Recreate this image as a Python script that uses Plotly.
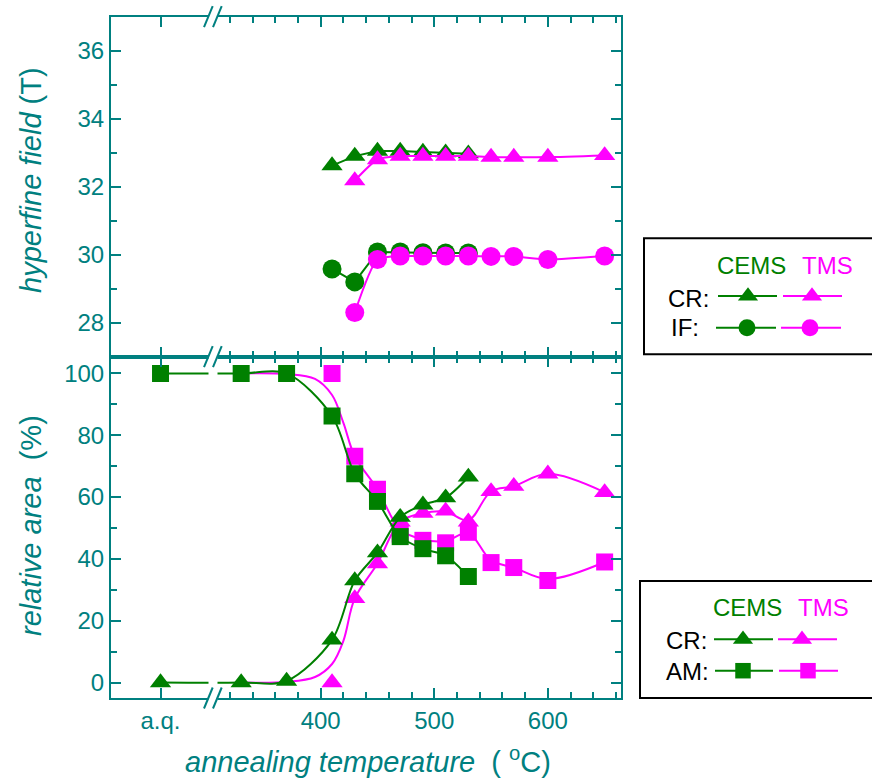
import plotly.graph_objects as go

W, H = 872, 778
AQ = 259          # axis position used for the as-quenched ("a.q.") sample
BREAK_X = 305.2   # axis-break position (data units)

# ---------------- data ----------------
# top panel: hyperfine field (T)
cems_top_T = [410, 430, 450, 470, 490, 510, 530]
cems_cr_hf = [32.62, 32.9, 33.05, 33.05, 33.02, 33.0, 32.97]
cems_if_hf = [29.58, 29.2, 30.08, 30.08, 30.06, 30.05, 30.05]

tms_top_T = [430, 450, 470, 490, 510, 530, 550, 570, 600, 650]
tms_cr_hf = [32.18, 32.8, 32.9, 32.9, 32.9, 32.9, 32.87, 32.87, 32.87, 32.92]
tms_if_hf = [28.3, 29.86, 29.96, 29.96, 29.96, 29.96, 29.95, 29.95, 29.86, 29.96]

# bottom panel: relative area (%)
cems_T = [AQ, 330, 370, 410, 430, 450, 470, 490, 510, 530]
cems_am = [100, 100, 100, 86.2, 67.5, 58.6, 47.2, 43.3, 41.0, 34.3]
cems_cr = [0, 0, 0.5, 13.8, 33.0, 42.0, 53.5, 57.5, 59.8, 66.5]

tms_T = [410, 430, 450, 470, 490, 510, 530, 550, 570, 600, 650]
tms_am = [100, 73.2, 62.5, 48.0, 46.0, 45.2, 48.6, 38.8, 37.2, 33.0, 39.0]
tms_cr = [0, 27.2, 38.5, 52.0, 54.8, 55.5, 52.0, 61.8, 63.5, 67.5, 61.5]

# fitted (guide) curves of the TMS series
tms_fit_T = [330, 370, 395, 410, 420, 430, 450, 470, 490, 510, 530, 550, 570, 600, 650]
tms_am_fit = [100, 99.8, 98.2, 93, 84, 73.2, 62.5, 49.5, 46.3, 45.8, 48.3, 39.5, 37.2, 33.5, 39.0]
tms_cr_fit = [0, 0.2, 1.8, 6.0, 13.5, 27.2, 38.5, 52.0, 54.8, 55.3, 52.5, 61.8, 63.5, 67.5, 61.5]

x_major_vals = [AQ, 400, 500, 600]
x_major_text = ["a.q.", "400", "500", "600"]
x_minor_vals = [320, 340, 360, 380, 420, 440, 460, 480, 520, 540, 560, 580, 620, 640, 660]

# ---------------- style ----------------
TEAL = "#008080"
GREEN = "#008000"
MAG = "#ff00ff"
FONT = "Liberation Sans, Arial, sans-serif"
TRI = 18.5


def px(x):
    return x / W


def py(y):
    return 1 - y / H


X_DOM = [px(111), px(621)]
Y_BOT = [py(698), py(356.7)]
Y_TOP = [py(356.7), py(16.7)]

fig = go.Figure()


def add(x, y, color, symbol=None, size=0, xa="x", ya="y", shape="linear", smooth=1.0, mode="lines+markers"):
    kw = dict(x=x, y=y, mode=mode, xaxis=xa, yaxis=ya, showlegend=False, hoverinfo="skip",
              line=dict(color=color, width=2, shape=shape))
    if shape == "spline":
        kw["line"]["smoothing"] = smooth
    if symbol:
        kw["marker"] = dict(symbol=symbol, size=size, color=color, line=dict(width=0))
    fig.add_trace(go.Scatter(**kw))


# top panel
add(cems_top_T, cems_cr_hf, GREEN, "triangle-up", TRI, "x2", "y2")
add(cems_top_T, cems_if_hf, GREEN, "circle", 19, "x2", "y2")
add(tms_top_T, tms_cr_hf, MAG, "triangle-up", TRI, "x2", "y2", "spline", 0.6)
add(tms_top_T, tms_if_hf, MAG, "circle", 19, "x2", "y2", "spline", 0.6)

# bottom panel
add(tms_fit_T, tms_am_fit, MAG, mode="lines", shape="spline", smooth=1.0)
add(tms_fit_T, tms_cr_fit, MAG, mode="lines", shape="spline", smooth=1.0)
add(tms_T, tms_am, MAG, "square", 17, mode="markers")
add(tms_T, tms_cr, MAG, "triangle-up", TRI, mode="markers")
add(cems_T, cems_am, GREEN, "square", 17, shape="spline", smooth=0.9)
add(cems_T, cems_cr, GREEN, "triangle-up", TRI, shape="spline", smooth=0.9)

# legend samples (pixel-space overlay axis)
leg_rows = [
    # y, green line x0,x1, green marker x, magenta line x0,x1, magenta marker x, symbol, size
    (296.0, 718, 777, 748, 783, 842, 812, "triangle-up", 17.5),
    (327.7, 716, 776, 747, 781, 841, 810, "circle", 17),
    (639.3, 714, 773, 743, 778, 837, 802, "triangle-up", 17.5),
    (670.7, 715, 773, 743, 779, 838, 808, "square", 15.5),
]
for (ly, g0, g1, gm, m0, m1, mm, sym, sz) in leg_rows:
    for (a, b, c, col) in ((g0, g1, gm, GREEN), (m0, m1, mm, MAG)):
        fig.add_trace(go.Scatter(x=[a, b], y=[ly, ly], mode="lines", xaxis="x3", yaxis="y3",
                                 line=dict(color=col, width=2), showlegend=False, hoverinfo="skip"))
        fig.add_trace(go.Scatter(x=[c], y=[ly], mode="markers", xaxis="x3", yaxis="y3",
                                 marker=dict(symbol=sym, size=sz, color=col, line=dict(width=0)),
                                 showlegend=False, hoverinfo="skip"))

tickfont = dict(family=FONT, size=24, color=TEAL)
common_x = dict(range=[215.4, 664.4], domain=X_DOM, showgrid=False, zeroline=False,
                showline=True, linecolor=TEAL, linewidth=2, mirror="ticks",
                ticks="inside", ticklen=10, tickwidth=2, tickcolor=TEAL,
                tickmode="array", tickvals=x_major_vals, ticktext=x_major_text,
                minor=dict(tickmode="array", tickvals=x_minor_vals, ticks="inside",
                           ticklen=6, tickwidth=2, tickcolor=TEAL, showgrid=False),
                tickfont=tickfont, automargin=False)
common_y = dict(showgrid=False, zeroline=False, showline=True, linecolor=TEAL, linewidth=2,
                mirror="ticks", ticks="inside", ticklen=10, tickwidth=2, tickcolor=TEAL,
                tickfont=tickfont, automargin=False)

fig.update_layout(
    template="none",
    width=W, height=H,
    margin=dict(l=0, r=0, t=0, b=0),
    paper_bgcolor="white", plot_bgcolor="rgba(0,0,0,0)",
    showlegend=False,
    hovermode=False,
    xaxis=dict(anchor="y", **common_x),
    xaxis2=dict(anchor="y2", matches="x", showticklabels=False, **common_x),
    yaxis=dict(anchor="x", domain=Y_BOT, range=[-5, 105.4], tickmode="array",
               tickvals=[0, 20, 40, 60, 80, 100],
               minor=dict(tickmode="array", tickvals=[10, 30, 50, 70, 90], ticks="inside",
                          ticklen=6, tickwidth=2, tickcolor=TEAL, showgrid=False),
               **common_y),
    yaxis2=dict(anchor="x2", domain=Y_TOP, range=[27, 37], tickmode="array",
                tickvals=[28, 30, 32, 34, 36],
                minor=dict(tickmode="array", tickvals=[29, 31, 33, 35], ticks="inside",
                           ticklen=6, tickwidth=2, tickcolor=TEAL, showgrid=False),
                **common_y),
    xaxis3=dict(domain=[0, 1], range=[0, W], visible=False, anchor="y3", fixedrange=True),
    yaxis3=dict(domain=[0, 1], range=[H, 0], visible=False, anchor="x3", fixedrange=True),
)

shapes = []
# axis break: white gap band then the "//" marks on each horizontal axis
shapes.append(dict(type="rect", xref="x", xsizemode="pixel", xanchor=BREAK_X, x0=-4.5, x1=4.5,
                   yref="paper", y0=py(701), y1=py(14), fillcolor="white",
                   line=dict(width=0), layer="above"))
for axis_y in (698, 356.7, 16.7):
    for (a, b) in ((-9.0, -0.3), (0.0, 8.7)):
        shapes.append(dict(type="line", xref="x", xsizemode="pixel", xanchor=BREAK_X, x0=a, x1=b,
                           yref="paper", ysizemode="pixel", yanchor=py(axis_y), y0=-10.5, y1=10.5,
                           line=dict(color=TEAL, width=2), layer="above"))
# legend boxes
for (x0, y0, y1) in ((644, 238.3, 354.3), (640, 581, 698)):
    shapes.append(dict(type="rect", xref="paper", yref="paper", x0=px(x0), x1=px(876),
                       y0=py(y1), y1=py(y0), line=dict(color="black", width=2),
                       fillcolor="rgba(0,0,0,0)", layer="above"))
fig.update_layout(shapes=shapes)

ann = []


def text(x, y, s, color="black", size=24, anchor="left", angle=0):
    ann.append(dict(x=px(x), y=py(y), xref="paper", yref="paper", text=s, showarrow=False,
                    xanchor=anchor, yanchor="middle", textangle=angle,
                    font=dict(family=FONT, size=size, color=color)))


# legend texts
text(715, 265, "CEMS", GREEN)
text(800, 265, "TMS", MAG)
text(666, 298, "CR:")
text(669, 327, "IF:")
text(711, 607, "CEMS", GREEN)
text(796, 607, "TMS", MAG)
text(664, 640.5, "CR:")
text(664, 671, "AM:")

# axis titles
text(368, 760, "<i>annealing temperature</i>\u00a0\u00a0( <sup>o</sup>C)", TEAL, 29, "center")
text(31, 180, "<i>hyperfine field</i> (T)", TEAL, 29, "center", -90)
text(31, 526, "<i>relative area</i>\u00a0\u00a0(%)", TEAL, 29, "center", -90)
fig.update_layout(annotations=ann)

fig.write_html("out.html")
